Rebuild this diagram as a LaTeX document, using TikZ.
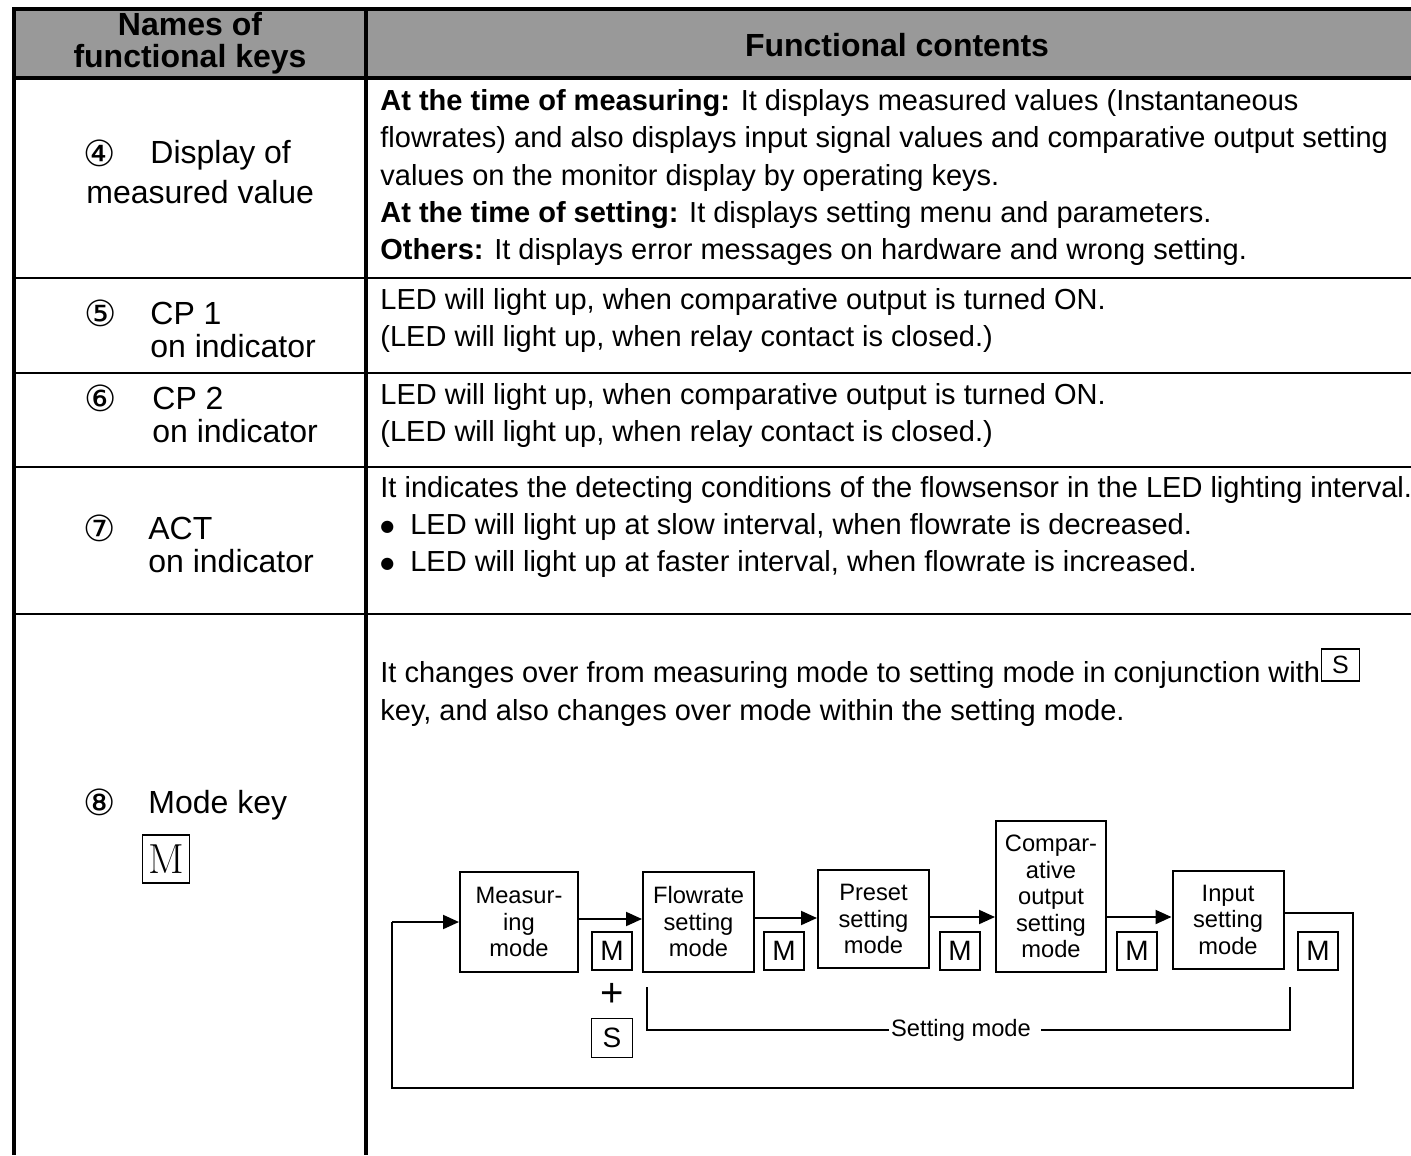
\documentclass[tikz,border=0pt]{standalone}
\usepackage{fontspec}
\setsansfont{Liberation Sans}
\renewcommand{\familydefault}{\sfdefault}
\newfontfamily\circfont{DejaVu Sans}
\usetikzlibrary{arrows.meta, positioning}
\definecolor{headgray}{HTML}{999999}
\newcommand{\blt}{\raisebox{1.2pt}{\circfont\fontsize{8}{8}\selectfont ●}\hspace{0.55em}}
\tikzset{
  thickrule/.style={line width=2pt},
  rowrule/.style={line width=1.2pt},
  content/.style={anchor=base west, align=left, inner sep=0pt, font=\fontsize{14.5}{18.5}\selectfont},
  keyname/.style={anchor=base west, align=left, inner sep=0pt, font=\fontsize{16}{16.5}\selectfont},
  headtext/.style={align=center, inner sep=0pt, font=\bfseries\fontsize{16}{16}\selectfont},
  circnum/.style={inner sep=0pt, font=\circfont\fontsize{18}{18}\selectfont},
  modebox/.style={draw, line width=1pt, align=center, inner sep=0pt, font=\fontsize{11.85}{13.25}\selectfont},
  keybox/.style={draw, line width=0.9pt, minimum width=20pt, minimum height=19pt, inner sep=0pt, font=\fontsize{14}{14}\selectfont},
  arr/.style={line width=1pt, -{Triangle[length=8pt,width=7pt]}},
  wire/.style={line width=1pt},
}
\begin{document}
\begin{tikzpicture}[x=0.5pt, y=-0.5pt]
    \useasboundingbox (0,0) rectangle (1411,1155);
    % Tabella
    \fill[headgray] (14,9) rectangle (1411,78);
    \draw[thickrule] (12,9) -- (1411,9);
    \draw[thickrule] (12,78) -- (1411,78);
    \draw[thickrule] (14,9) -- (14,1155);
    \draw[thickrule] (366,9) -- (366,1155);
    \foreach \yr in {278,373,467,614}
        \draw[rowrule] (14,\yr) -- (1411,\yr);
    % Intestazione
    \node[headtext] (hnames) at (190,43) {Names of\\functional keys};
    \node[headtext] (hcont) at (897,45) {Functional contents};
    % Colonna sinistra (ancora sull'ultima riga)
    \node[circnum] (n4) at (100,153) {④};
    \node[keyname] (k4a) at (150,164) {Display of};
    \node[keyname] (k4b) at (86,204) {measured value};
    \node[circnum] (n5) at (101,313) {⑤};
    \node[keyname] (k5) at (150,357) {CP 1\\on indicator};
    \node[circnum] (n6) at (101,398) {⑥};
    \node[keyname] (k6) at (152,442) {CP 2\\on indicator};
    \node[circnum] (n7) at (100,528) {⑦};
    \node[keyname] (k7) at (148,572) {ACT\\on indicator};
    \node[circnum] (n8) at (100,802) {⑧};
    \node[keyname] (k8) at (148,813) {Mode key};
    \node[draw, line width=0.6pt, minimum width=23.5pt, minimum height=24pt, inner sep=0pt,
          font=\rmfamily\fontsize{21}{21}\selectfont] (mbig) at (166,859) {M};
    % Colonna destra
    \node[content] (c4) at (380,259) {\textbf{At the time of measuring:} It displays measured values (Instantaneous\\
        flowrates) and also displays input signal values and comparative output setting\\
        values on the monitor display by operating keys.\\
        \textbf{At the time of setting:} It displays setting menu and parameters.\\
        \textbf{Others:} It displays error messages on hardware and wrong setting.};
    \node[content] (c5) at (380,346) {LED will light up, when comparative output is turned ON.\\
        (LED will light up, when relay contact is closed.)};
    \node[content] (c6) at (380,441) {LED will light up, when comparative output is turned ON.\\
        (LED will light up, when relay contact is closed.)};
    \node[content] (c7) at (380,571) {It indicates the detecting conditions of the flowsensor in the LED lighting interval.\\
        \blt LED will light up at slow interval, when flowrate is decreased.\\
        \blt LED will light up at faster interval, when flowrate is increased.};
    \node[content] (c8a) at (380,682) {It changes over from measuring mode to setting mode in conjunction with};
    \node[keybox, anchor=south west, minimum height=16pt, minimum width=19pt,
          font=\fontsize{12.5}{12.5}\selectfont] (skey) at (c8a.base east) {S};
    \node[content] (c8b) at (380,720) {key, and also changes over mode within the setting mode.};
    % Diagramma dei modi
    \node[modebox, minimum width=59pt, minimum height=50pt] (meas) at (519,922) {Measur-\\ing\\mode};
    \node[modebox, minimum width=55.5pt, minimum height=50pt] (flow) at (698.5,922) {Flowrate\\setting\\mode};
    \node[modebox, minimum width=55.5pt, minimum height=49pt] (pres) at (873.5,919) {Preset\\setting\\mode};
    \node[modebox, minimum width=55pt, minimum height=75.5pt] (comp) at (1051,896.5) {Compar-\\ative\\output\\setting\\mode};
    \node[modebox, minimum width=55.5pt, minimum height=49pt] (inpt) at (1228,919.5) {Input\\setting\\mode};
    \foreach \xk/\nm in {612/m1,784/m2,960/m3,1137/m4,1318/m5}
        \node[keybox] (\nm) at (\xk,951) {M};
    \node[inner sep=0pt, font=\fontsize{20}{20}\selectfont] (plus) at (612,995) {+};
    \node[keybox, minimum width=20.5pt, minimum height=19.5pt] (s1) at (612,1038) {S};
    % Frecce
    \draw[arr] (meas.east |- 0,919) -- (flow.west |- 0,919);
    \draw[arr] (flow.east |- 0,918) -- (pres.west |- 0,918);
    \draw[arr] (pres.east |- 0,917) -- (comp.west |- 0,917);
    \draw[arr] (comp.east |- 0,917) -- (inpt.west |- 0,917);
    % Ritorno
    \coordinate (rA) at (1353,913);
    \coordinate (rB) at (1353,1088);
    \coordinate (rC) at (392,1088);
    \coordinate (rD) at (392,922);
    \draw[wire] (inpt.east |- rA) -- (rA) -- (rB) -- (rC) -- (rD);
    \draw[arr] (rD) -- (meas.west);
    % Parentesi "Setting mode"
    \node[inner sep=0pt, font=\fontsize{11.85}{13.25}\selectfont] (setm) at (961,1030) {Setting mode};
    \coordinate (bL) at (647,987);
    \coordinate (bR) at (1290,987);
    \draw[wire] (bL) -- (bL |- setm.west) -- ([xshift=-1pt]setm.west);
    \draw[wire] ([xshift=5pt]setm.east) -- (bR |- setm.east) -- (bR);
\end{tikzpicture}
\end{document}
